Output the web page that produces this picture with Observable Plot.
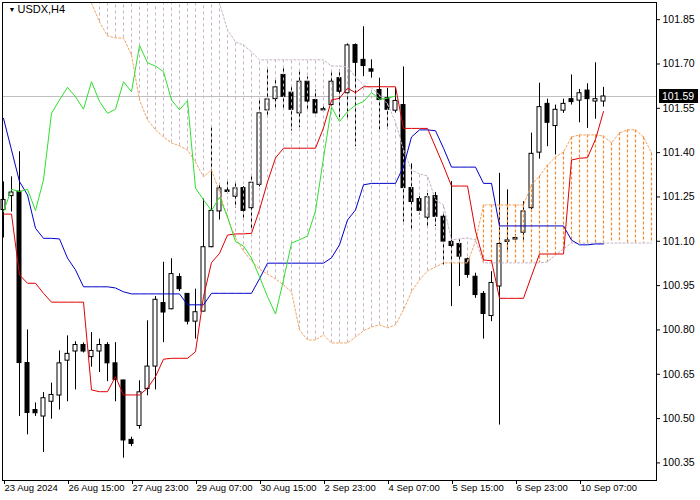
<!DOCTYPE html>
<html><head><meta charset="utf-8">
<script src="https://cdn.jsdelivr.net/npm/d3@7"></script>
<script src="https://cdn.jsdelivr.net/npm/@observablehq/plot@0.6"></script>
<style>
body{margin:0;background:#fff;}
#chart{position:relative;width:700px;height:500px;}
</style></head><body><div id="chart"></div>
<script>
// ---- candle data (USDX, H4), bar index 0..75 ----
const opens  = [101.206,101.253,101.268,100.688,100.529,100.507,100.557,100.578,100.696,100.727,
                100.749,100.708,100.727,100.749,100.687,100.629,100.428,100.475,100.600,100.676,
                100.891,100.870,100.979,100.922,100.828,100.862,101.080,101.201,101.272,101.251,
                101.280,101.212,101.291,101.543,101.581,101.663,101.603,101.533,101.640,101.578,
                101.543,101.561,101.652,101.601,101.764,101.714,101.682,101.612,101.584,101.542,
                101.561,101.280,101.243,101.180,101.253,101.183,101.098,101.091,101.039,100.980,
                100.922,100.847,100.947,101.098,101.106,101.129,101.212,101.400,101.565,101.490,
                101.542,101.581,101.576,101.610,101.573,101.573];
const highs  = [101.301,101.318,101.403,100.800,100.553,100.588,100.620,100.729,100.780,100.760,
                100.756,100.791,100.769,100.757,100.757,100.630,100.437,100.628,100.831,100.913,
                101.029,101.041,100.990,100.923,100.938,101.243,101.484,101.291,101.301,101.296,
                101.285,101.319,101.578,101.683,101.646,101.690,101.622,101.673,101.656,101.612,
                101.555,101.670,101.680,101.768,101.768,101.826,101.714,101.652,101.618,101.619,
                101.690,101.362,101.251,101.262,101.265,101.195,101.302,101.105,101.043,100.992,
                100.930,100.997,101.330,101.274,101.122,101.234,101.466,101.635,101.581,101.561,
                101.581,101.663,101.614,101.633,101.704,101.621];
const lows   = [101.111,101.199,100.507,100.445,100.507,100.385,100.498,100.529,100.557,100.597,
                100.722,100.674,100.656,100.625,100.557,100.366,100.405,100.464,100.577,100.597,
                100.757,100.868,100.930,100.817,100.769,100.861,101.078,101.172,101.260,101.212,
                101.178,101.138,101.284,101.518,101.551,101.545,101.473,101.484,101.545,101.531,
                101.538,101.545,101.518,101.511,101.420,101.657,101.652,101.477,101.477,101.534,
                101.165,101.138,101.189,101.150,101.150,101.020,100.879,100.947,100.975,100.907,
                100.769,100.828,100.478,101.061,101.094,101.099,101.206,101.378,101.420,101.392,
                101.533,101.561,101.501,101.482,101.513,101.554];
const closes = [101.240,101.265,100.688,100.519,100.518,100.569,100.580,100.687,100.719,100.749,
                100.727,100.729,100.749,100.687,100.631,100.426,100.414,100.589,100.676,100.902,
                100.859,100.989,100.938,100.828,100.860,101.080,101.203,101.279,101.267,101.279,
                101.203,101.298,101.533,101.580,101.621,101.589,101.545,101.640,101.573,101.533,
                101.547,101.640,101.606,101.763,101.704,101.693,101.674,101.578,101.545,101.575,
                101.280,101.233,101.203,101.249,101.183,101.099,101.084,101.048,100.986,100.918,
                100.854,100.959,101.091,101.103,101.111,101.201,101.396,101.554,101.501,101.545,
                101.565,101.571,101.601,101.581,101.581,101.590];

// ---- Ichimoku lines ----
const tenkan = [101.192,101.192,100.986,100.958,100.958,100.924,100.894,100.894,100.894,100.894,
                100.894,100.597,100.591,100.591,100.642,100.580,100.580,100.580,100.603,100.642,
                100.701,100.704,100.704,100.704,100.726,100.913,101.028,101.059,101.121,101.125,
                101.125,101.127,101.206,101.301,101.382,101.415,101.415,101.415,101.415,101.415,
                101.484,101.578,101.584,101.618,101.603,101.623,101.623,101.623,101.623,101.623,
                101.482,101.482,101.482,101.482,101.419,101.355,101.287,101.287,101.287,101.135,
                101.037,101.034,100.907,100.907,100.907,100.907,100.983,101.057,101.057,101.057,
                101.057,101.375,101.381,101.383,101.445,101.539];
const kijun  = [101.516,101.409,101.302,101.257,101.144,101.110,101.110,101.108,101.043,101.003,
                100.946,100.946,100.946,100.946,100.942,100.929,100.922,100.922,100.922,100.922,
                100.922,100.922,100.922,100.885,100.885,100.885,100.924,100.924,100.924,100.924,
                100.924,100.924,100.973,101.026,101.026,101.026,101.026,101.026,101.026,101.026,
                101.026,101.044,101.088,101.172,101.206,101.291,101.296,101.296,101.296,101.296,
                101.353,101.453,101.477,101.477,101.474,101.415,101.351,101.351,101.351,101.351,
                101.296,101.296,101.152,101.152,101.152,101.152,101.152,101.152,101.152,101.152,
                101.152,101.104,101.088,101.088,101.091,101.091];
const chikou = [101.200,101.276,101.268,101.276,101.204,101.308,101.533,101.578,101.621,101.589,
                101.547,101.640,101.573,101.533,101.547,101.640,101.606,101.763,101.704,101.693,
                101.674,101.578,101.545,101.576,101.280,101.240,101.204,101.249,101.183,101.099,
                101.084,101.043,100.980,100.913,100.854,100.969,101.094,101.105,101.118,101.203,
                101.382,101.554,101.505,101.539,101.561,101.573,101.603,101.581,101.584,101.592];

// ---- Senkou spans (cloud), bars 11..81 ----
const cloudStart = 11;
const spanA = [101.906,101.842,101.795,101.788,101.788,101.730,101.578,101.511,101.477,101.453,
               101.433,101.423,101.409,101.368,101.318,101.341,101.267,101.179,101.111,101.067,
               101.033,101.006,100.989,100.973,100.952,100.929,100.800,100.766,100.766,100.783,
               100.756,100.756,100.756,100.776,100.797,100.810,100.817,100.807,100.817,100.868,
               100.929,100.969,101.000,101.013,101.027,101.027,101.027,101.027,101.101,101.223,
               101.223,101.223,101.223,101.223,101.223,101.291,101.321,101.358,101.385,101.402,
               101.453,101.460,101.460,101.460,101.456,101.433,101.467,101.477,101.477,101.453,
               101.399];
const spanB = [102.000,102.000,102.000,102.000,102.000,102.000,102.000,102.000,102.000,102.000,
               102.000,102.000,102.000,102.000,102.000,102.000,101.906,101.815,101.775,101.764,
               101.741,101.714,101.714,101.714,101.714,101.714,101.714,101.714,101.714,101.714,
               101.693,101.693,101.690,101.656,101.629,101.619,101.595,101.565,101.504,101.409,
               101.341,101.328,101.321,101.240,101.223,101.105,101.108,101.111,101.105,101.027,
               101.027,101.027,101.027,101.027,101.027,101.027,101.027,101.030,101.054,101.074,
               101.094,101.094,101.094,101.094,101.094,101.094,101.094,101.094,101.094,101.094,
               101.094];

// ---- axes ----
const tickBars   = [0, 8, 16, 24, 32, 40, 48, 56, 64, 72];
const tickLabels = ["23 Aug 2024","26 Aug 15:00","27 Aug 23:00","29 Aug 07:00","30 Aug 15:00",
                    "2 Sep 23:00","4 Sep 07:00","5 Sep 15:00","6 Sep 23:00","10 Sep 07:00"];
const priceTicks = [101.85,101.70,101.55,101.40,101.25,101.10,100.95,100.80,100.65,100.50,100.35];
const lastPrice = 101.59;
const symbolTitle = "USDX,H4";

const candles = opens.map((o, i) => ({i, open: o, high: highs[i], low: lows[i], close: closes[i], up: closes[i] >= o}));
const cloud = spanA.map((a, k) => ({i: k + cloudStart, a, b: spanB[k]}));
const bullCloud = cloud.filter(d => d.a >= d.b);
const bearCloud = cloud.filter(d => d.a < d.b);
const series = arr => arr.map((v, i) => ({i, v}));

const FONT = '"Liberation Sans", Arial, sans-serif';
const SANDY = "#f4a460", SANDY_HATCH = "#f08a30", THISTLE = "#c6b4c6";

const plot = Plot.plot({
  width: 700, height: 500,
  marginLeft: 2, marginRight: 44, marginTop: 2, marginBottom: 20,
  x: {domain: [-0.125, 81.625]},
  y: {domain: [100.2905, 101.9081]},
  style: {fontFamily: FONT, fontSize: "10px", background: "#fff", color: "#000"},
  marks: [
    Plot.ruleY([lastPrice], {stroke: "#c0c0c0", strokeWidth: 1}),
    Plot.ruleX(candles, {x: "i", y1: "low", y2: "high", stroke: "#000", strokeWidth: 1}),
    Plot.rect(candles.filter(d => d.up), {x1: d => d.i - 0.25, x2: d => d.i + 0.25, y1: "open", y2: "close",
      fill: "#fff", stroke: "#000", strokeWidth: 1}),
    Plot.rect(candles.filter(d => !d.up), {x1: d => d.i - 0.25, x2: d => d.i + 0.25, y1: "open", y2: "close",
      fill: "#000", stroke: "#000", strokeWidth: 1}),
    Plot.ruleX(bearCloud, {x: "i", y1: "a", y2: "b", stroke: THISTLE,
      strokeWidth: 1, strokeDasharray: "3,3", clip: true}),
    Plot.ruleX(bullCloud, {x: "i", y1: "a", y2: "b", stroke: SANDY_HATCH,
      strokeWidth: 1.2, strokeDasharray: "3,2"}),
    Plot.line(cloud, {x: "i", y: "a", stroke: SANDY, strokeWidth: 1, strokeDasharray: "2,2", clip: true}),
    Plot.line(cloud, {x: "i", y: "b", stroke: THISTLE, strokeWidth: 1, strokeDasharray: "2,2", clip: true}),
    Plot.line(series(kijun), {x: "i", y: "v", stroke: "#0000cc", strokeWidth: 1}),
    Plot.line(series(tenkan), {x: "i", y: "v", stroke: "#e00000", strokeWidth: 1}),
    Plot.line(series(chikou), {x: "i", y: "v", stroke: "#2ee02e", strokeWidth: 1}),
    Plot.frame({stroke: "#000", strokeWidth: 1}),
    Plot.axisX(tickBars, {anchor: "bottom", tickSize: 4, tickPadding: 0, textAnchor: "start", dx: 1,
      tickFormat: d => tickLabels[tickBars.indexOf(d)], fontSize: 9.5, label: null}),
    Plot.axisY(priceTicks, {anchor: "right", tickSize: 3, tickPadding: 3, fontSize: 10.5,
      tickFormat: d => d.toFixed(2), label: null}),
    Plot.text(["\u25BC"], {frameAnchor: "top-left", dx: 6, dy: 7, lineAnchor: "middle", fontSize: 7, fill: "#000"}),
    Plot.text([symbolTitle], {frameAnchor: "top-left", dx: 15, dy: 7, lineAnchor: "middle", textAnchor: "start", fontSize: 11, fill: "#000"})
  ]
});

// current price tag on the right scale
const yScale = plot.scale("y");
const py = yScale.apply(lastPrice) + 0.5;
const svg = d3.select(plot);
const tag = svg.append("g");
tag.append("rect").attr("x", 659).attr("y", Math.round(py) - 7).attr("width", 39).attr("height", 14).attr("fill", "#000");
tag.append("text").attr("x", 662).attr("y", py).attr("dy", "0.35em").attr("fill", "#fff")
  .attr("text-anchor", "start").attr("font-size", 10.5).attr("font-family", FONT).text(lastPrice.toFixed(2));

document.getElementById("chart").appendChild(plot);
</script></body></html>
